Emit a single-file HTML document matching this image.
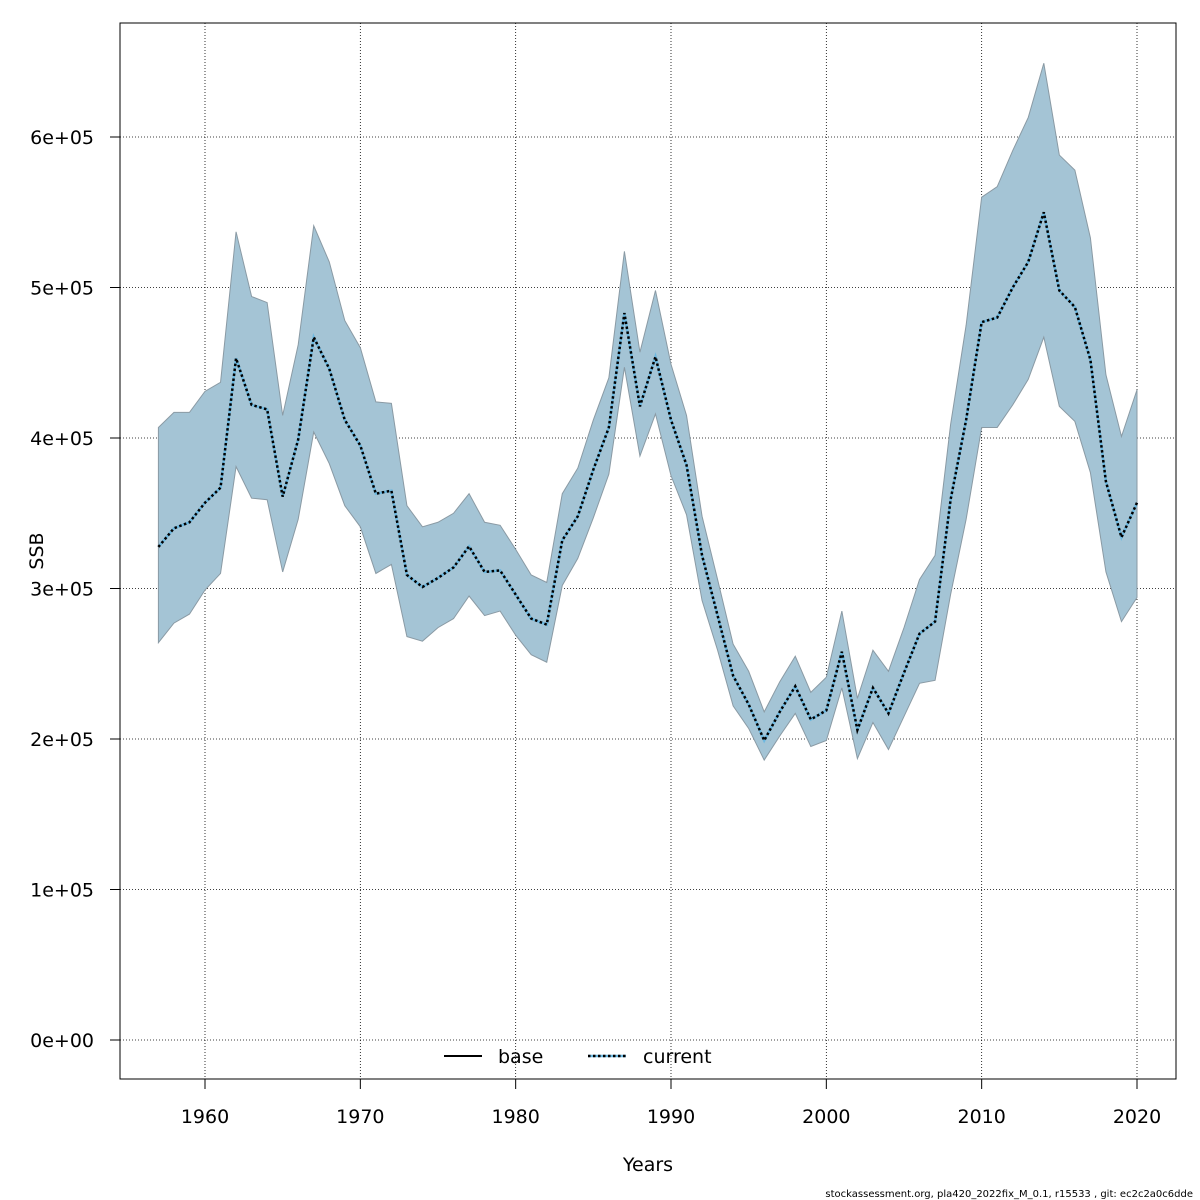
<!DOCTYPE html>
<html><head><meta charset="utf-8"><style>
body{margin:0;background:#fff;}
svg{display:block;font-family:"DejaVu Sans","Liberation Sans",sans-serif;}
</style></head><body>
<svg id="chart" width="1200" height="1200" viewBox="0 0 1200 1200">
<g id="grid"></g>
<g id="bands"></g>
<g id="lines"></g>
<rect x="120" y="23" width="1056" height="1056" fill="none" stroke="#000" stroke-width="1"/>
<g id="xaxis"></g>
<g id="yaxis"></g>
<text x="648" y="1171" font-size="19" text-anchor="middle">Years</text>
<text transform="translate(43,551) rotate(-90)" font-size="19" text-anchor="middle">SSB</text>
<g>
<line x1="444" y1="1056" x2="482" y2="1056" stroke="#000" stroke-width="2"/>
<text x="498" y="1063" font-size="19">base</text>
<line x1="588" y1="1056" x2="626" y2="1056" stroke="#6cb8e0" stroke-width="2.5"/>
<line x1="588" y1="1056" x2="626" y2="1056" stroke="#000" stroke-width="2.5" stroke-dasharray="2.5,2.5"/>
<text x="643" y="1063" font-size="19">current</text>
</g>
<text x="1193" y="1197" font-size="10" text-anchor="end">stockassessment.org, pla420_2022fix_M_0.1, r15533 , git: ec2c2a0c6dde</text>
</svg>
<script>
const years=[];for(let y=1957;y<=2020;y++)years.push(y);
const ssb=[327.6,340,344,357,367,453,422,419,361,399,467,446,412,395,363,365,309,301,307,314,328,311,312,296,280,276,332,348,379,407,483,421,454,412,382,322,282,242,223,199,218,235,213,219,258,206,234,217,244,270,278,359,412,477,480,500,517,550,498,487,452,371,334,357];
const upper=[407,417,417,431,437,537,494,490,415,462,541,517,478,460,424,423,355,341,344,350,363,344,342,326,309,304,363,380,412,440,524,457,498,449,415,348,306,263,245,218,238,255,231,241,285,227,259,245,274,306,322,409,475,560,567,591,613,649,588,578,533,442,401,432];
const lower=[264,277,283,299,310,381,360,359,311,346,404,383,355,341,310,316,268,265,274,280,295,282,285,269,256,251,302,320,347,376,447,388,416,375,349,292,259,222,207,186,202,217,195,199,234,187,211,193,215,237,239,296,346,407,407,422,439,467,421,411,377,311,278,294];
const xTicks=[1960,1970,1980,1990,2000,2010,2020];
const yTicks=[0,100,200,300,400,500,600];
const yTickLabels=["0e+00","1e+05","2e+05","3e+05","4e+05","5e+05","6e+05"];
const NS="http://www.w3.org/2000/svg";
const X=y=>205+(y-1960)*932/60;
const Y=v=>1040-v*1.505;
function mk(tag,attrs,parent){const e=document.createElementNS(NS,tag);for(const k in attrs)e.setAttribute(k,attrs[k]);document.getElementById(parent).appendChild(e);return e;}
xTicks.forEach(t=>{
 const g=mk('line',{x1:X(t),x2:X(t),y1:23,y2:1079,stroke:'#000','stroke-width':0.8,'stroke-dasharray':'1,2'},'grid');
 
 
 const tk=mk('line',{x1:X(t),x2:X(t),y1:1079,y2:1089,stroke:'#000'},'xaxis');
 
 
 const tx=mk('text',{x:X(t),y:1123,'font-size':19,'text-anchor':'middle'},'xaxis');tx.textContent=t;
 
 
});
yTicks.forEach((t,i)=>{
 const g=mk('line',{x1:120,x2:1176,y1:Y(t),y2:Y(t),stroke:'#000','stroke-width':0.8,'stroke-dasharray':'1,2'},'grid');
 
 
 const tk=mk('line',{x1:110,x2:120,y1:Y(t),y2:Y(t),stroke:'#000'},'yaxis');
 
 
 const tx=mk('text',{x:94,y:Y(t)+7,'font-size':19,'text-anchor':'end'},'yaxis');tx.textContent=yTickLabels[i];
 
 
});
let d='M'+years.map((y,i)=>X(y)+','+Y(upper[i])).join('L');
for(let i=years.length-1;i>=0;i--)d+='L'+X(years[i])+','+Y(lower[i]);d+='Z';
const band=mk('path',{d:d,fill:'#a4c4d5',stroke:'#8a9aa4','stroke-width':1},'bands');


const pts=years.map((y,i)=>X(y)+','+Y(ssb[i])).join(' ');
const base=mk('polyline',{points:pts,fill:'none',stroke:'#6cb8e0','stroke-width':2.5},'lines');


const cur=mk('polyline',{points:pts,fill:'none',stroke:'#000','stroke-width':2.5,'stroke-dasharray':'2.5,2.5'},'lines');


</script>
</body></html>
